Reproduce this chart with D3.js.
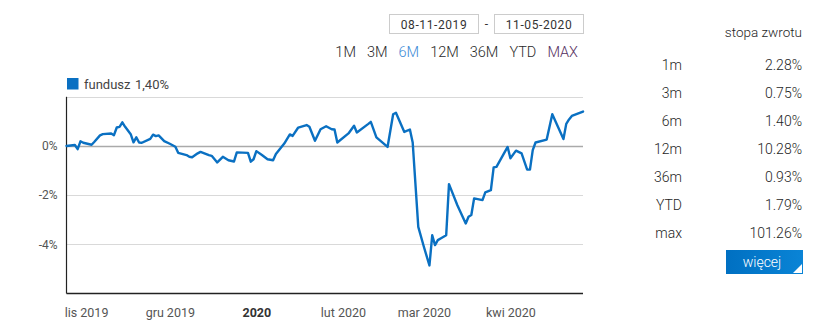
<!DOCTYPE html>
<html>
<head>
<meta charset="utf-8">
<script src="https://cdn.jsdelivr.net/npm/d3@7"></script>
<style>
  html, body { margin: 0; padding: 0; background: #fff; }
  svg { display: block; font-family: Roboto, "Noto Sans", sans-serif; }
</style>
</head>
<body>
<svg id="chart" width="827" height="324"></svg>
<script>
// Fund return series (% change since start of range)
const dates = [
  "2019-11-08","2019-11-11","2019-11-12","2019-11-13","2019-11-14","2019-11-17","2019-11-18","2019-11-20",
  "2019-11-21","2019-11-24","2019-11-25","2019-11-26","2019-11-27","2019-11-28","2019-11-29","2019-12-01",
  "2019-12-02","2019-12-03","2019-12-04","2019-12-05","2019-12-08","2019-12-09","2019-12-10","2019-12-11",
  "2019-12-13","2019-12-15","2019-12-17","2019-12-18","2019-12-21","2019-12-22","2019-12-23","2019-12-25",
  "2019-12-26","2019-12-29","2019-12-30","2020-01-01","2020-01-03","2020-01-05","2020-01-07","2020-01-08",
  "2020-01-12","2020-01-13","2020-01-14","2020-01-15","2020-01-17","2020-01-19","2020-01-21","2020-01-22",
  "2020-01-25","2020-01-27","2020-01-28","2020-01-30","2020-02-02","2020-02-03","2020-02-05","2020-02-07",
  "2020-02-09","2020-02-11","2020-02-12","2020-02-13","2020-02-17","2020-02-19","2020-02-20","2020-02-24",
  "2020-02-25","2020-02-27","2020-03-02","2020-03-04","2020-03-05","2020-03-08","2020-03-10","2020-03-11",
  "2020-03-13","2020-03-15","2020-03-17","2020-03-18","2020-03-19","2020-03-20","2020-03-21","2020-03-23",
  "2020-03-24","2020-03-27","2020-03-30","2020-03-31","2020-04-01","2020-04-02","2020-04-05","2020-04-06",
  "2020-04-08","2020-04-09","2020-04-10","2020-04-14","2020-04-15","2020-04-17","2020-04-19","2020-04-21",
  "2020-04-22","2020-04-23","2020-04-24","2020-04-28","2020-04-30","2020-05-04","2020-05-05","2020-05-06",
  "2020-05-07","2020-05-11"
];
const values = [
  0.00, 0.04, -0.13, 0.19, 0.13, 0.05, 0.17, 0.43,
  0.48, 0.51, 0.44, 0.75, 0.78, 0.96, 0.78, 0.48,
  0.15, 0.35, 0.14, 0.13, 0.29, 0.46, 0.40, 0.43,
  0.20, 0.09, -0.03, -0.28, -0.37, -0.44, -0.46, -0.30,
  -0.24, -0.37, -0.40, -0.67, -0.44, -0.58, -0.63, -0.26,
  -0.28, -0.64, -0.54, -0.21, -0.37, -0.54, -0.58, -0.33,
  0.10, 0.47, 0.41, 0.75, 0.85, 0.78, 0.21, 0.68,
  0.80, 0.68, 0.67, 0.14, 0.51, 0.82, 0.55, 0.89,
  0.98, 0.35, -0.04, 1.29, 1.35, 0.57, 0.67, 0.14,
  -3.29, -4.10, -4.86, -3.63, -4.03, -3.83, -3.76, -3.63,
  -1.55, -2.41, -3.15, -2.88, -2.81, -2.13, -2.20, -1.89,
  -1.80, -0.87, -0.85, -0.04, -0.50, -0.19, -0.30, -0.96,
  -0.96, -0.17, 0.14, 0.26, 1.29, 0.28, 0.90, 1.08,
  1.22, 1.40
];

const rangeStart = "08-11-2019";
const rangeEnd = "11-05-2020";
const rangeButtons = ["1M", "3M", "6M", "12M", "36M", "YTD", "MAX"];
const activeButton = "6M";

const yTicks = [-4, -2, 0];
const gridLevels = [-4, -2, 0, 2];
const monthTickDates = ["2019-11-15","2019-12-15","2020-01-15","2020-02-15","2020-03-15","2020-04-15"];
const monthTickLabels = ["lis 2019","gru 2019","2020","lut 2020","mar 2020","kwi 2020"];

const legendName = "fundusz";
const legendValue = "1,40%";

const periods = ["1m", "3m", "6m", "12m", "36m", "YTD", "max"];
const periodReturns = [2.28, 0.75, 1.40, 10.28, 0.93, 1.79, 101.26];

const parse = d3.timeParse("%Y-%m-%d");
const series = dates.map((d, i) => ({ date: parse(d), value: values[i] }));

const svg = d3.select("#chart");
const plot = { left: 66.5, right: 583, top: 96.8, bottom: 293.5 };

const x = d3.scaleTime()
  .domain([parse("2019-11-08"), parse("2020-05-11")])
  .range([plot.left, plot.right]);
const y = d3.scaleLinear()
  .domain([-6, 2])
  .range([plot.bottom, plot.top]);

// Horizontal grid
svg.append("g").selectAll("line")
  .data(gridLevels)
  .join("line")
  .attr("x1", plot.left).attr("x2", plot.right)
  .attr("y1", d => Math.round(y(d)) + 0.5).attr("y2", d => Math.round(y(d)) + 0.5)
  .attr("stroke", d => d === 0 ? "#aaaaaa" : "#d9d9d9")
  .attr("stroke-width", d => d === 0 ? 1.5 : 1);

// Y axis labels
const yAxis = d3.axisLeft(y).tickValues(yTicks).tickFormat(d => d + "%").tickSize(0).tickPadding(9);
const gy = svg.append("g").attr("transform", `translate(${plot.left},0)`).call(yAxis);
gy.select(".domain").remove();
gy.selectAll("text").attr("fill", "#555").style("font-size", "12px").style("font-family", "Roboto, sans-serif");

// X axis labels at mid-month
const xAxis = d3.axisBottom(x)
  .tickValues(monthTickDates.map(parse))
  .tickFormat((d, i) => monthTickLabels[i])
  .tickSize(0).tickPadding(15);
const gx = svg.append("g").attr("transform", `translate(0,${plot.bottom})`).call(xAxis);
gx.select(".domain").remove();
gx.selectAll("text")
  .attr("fill", (d, i) => monthTickLabels[i] === "2020" ? "#333" : "#555")
  .style("font-size", "12.5px")
  .style("font-weight", (d, i) => monthTickLabels[i] === "2020" ? "700" : "400")
  .style("font-family", "Roboto, sans-serif");

// Axis lines
svg.append("line")
  .attr("x1", plot.left).attr("x2", plot.left)
  .attr("y1", plot.top).attr("y2", plot.bottom)
  .attr("stroke", "#222").attr("stroke-width", 1.2);
svg.append("line")
  .attr("x1", plot.left).attr("x2", plot.right)
  .attr("y1", plot.bottom).attr("y2", plot.bottom)
  .attr("stroke", "#222").attr("stroke-width", 1.3);

// Fund line
const line = d3.line().x(d => x(d.date)).y(d => y(d.value));
svg.append("path")
  .datum(series)
  .attr("d", line)
  .attr("fill", "none")
  .attr("stroke", "#0a70c2")
  .attr("stroke-width", 2.4)
  .attr("stroke-linejoin", "round")
  .attr("stroke-linecap", "round");

// Legend
svg.append("rect").attr("x", 67).attr("y", 78).attr("width", 11.5).attr("height", 11.5).attr("fill", "#0a70c2");
svg.append("text").attr("x", 84).attr("y", 89)
  .attr("fill", "#444").style("font-size", "13px")
  .text(legendName);
svg.append("text").attr("x", 135).attr("y", 89)
  .attr("fill", "#444").style("font-size", "13px")
  .text(legendValue);

// Date range inputs
const inputs = [{ x: 389.5, text: rangeStart }, { x: 494.5, text: rangeEnd }];
inputs.forEach(b => {
  svg.append("rect").attr("x", b.x).attr("y", 14.5).attr("width", 89).attr("height", 19)
    .attr("fill", "#fff").attr("stroke", "#cccccc");
  svg.append("text").attr("x", b.x + 44.5).attr("y", 28.5).attr("text-anchor", "middle")
    .attr("fill", "#333").style("font-size", "12px").style("letter-spacing", "0.6px")
    .text(b.text);
});
svg.append("text").attr("x", 486.5).attr("y", 28).attr("text-anchor", "middle")
  .attr("fill", "#333").style("font-size", "12px").text("-");

// Range buttons, flowing leftwards from the right edge
let bx = 578;
for (let i = rangeButtons.length - 1; i >= 0; i--) {
  const label = rangeButtons[i];
  const t = svg.append("text").attr("y", 57).attr("text-anchor", "end")
    .attr("x", bx)
    .attr("fill", label === activeButton ? "#3a8ad6" : (label === "MAX" ? "#552f60" : "#2a2a2a"))
    .style("font-size", "14.5px")
    .style("font-weight", "300")
    .text(label);
  bx -= t.node().getComputedTextLength() + 11;
}

// Returns table
svg.append("text").attr("x", 802).attr("y", 37).attr("text-anchor", "end")
  .attr("fill", "#1e1e1e").style("font-size", "13.5px").style("font-weight", "300").text("stopa zwrotu");

const rowY = d3.scalePoint().domain(periods).range([70, 238]);
const rows = svg.append("g").selectAll("g").data(periods).join("g")
  .attr("transform", d => `translate(0,${rowY(d)})`);
rows.append("text").attr("x", 682).attr("text-anchor", "end")
  .attr("fill", "#1e1e1e").style("font-size", "14px").style("font-weight", "300").text(d => d);
rows.append("text").attr("x", 802).attr("text-anchor", "end")
  .attr("fill", "#1e1e1e").style("font-size", "14px").style("font-weight", "300")
  .text((d, i) => periodReturns[i].toFixed(2) + "%");

// "więcej" button
const defs = svg.append("defs");
const grad = defs.append("linearGradient").attr("id", "btnGrad").attr("x1", "0").attr("x2", "1");
grad.append("stop").attr("offset", "0").attr("stop-color", "#0070c2");
grad.append("stop").attr("offset", "1").attr("stop-color", "#0a84d6");
svg.append("rect").attr("x", 726).attr("y", 250).attr("width", 77).attr("height", 24).attr("fill", "url(#btnGrad)");
svg.append("text").attr("x", 762).attr("y", 267).attr("text-anchor", "middle")
  .attr("fill", "#fff").style("font-size", "14px").style("font-weight", "300").text("więcej");
svg.append("path").attr("d", "M802,264 L802,273 L793,273 Z").attr("fill", "#fff");
</script>
</body>
</html>
